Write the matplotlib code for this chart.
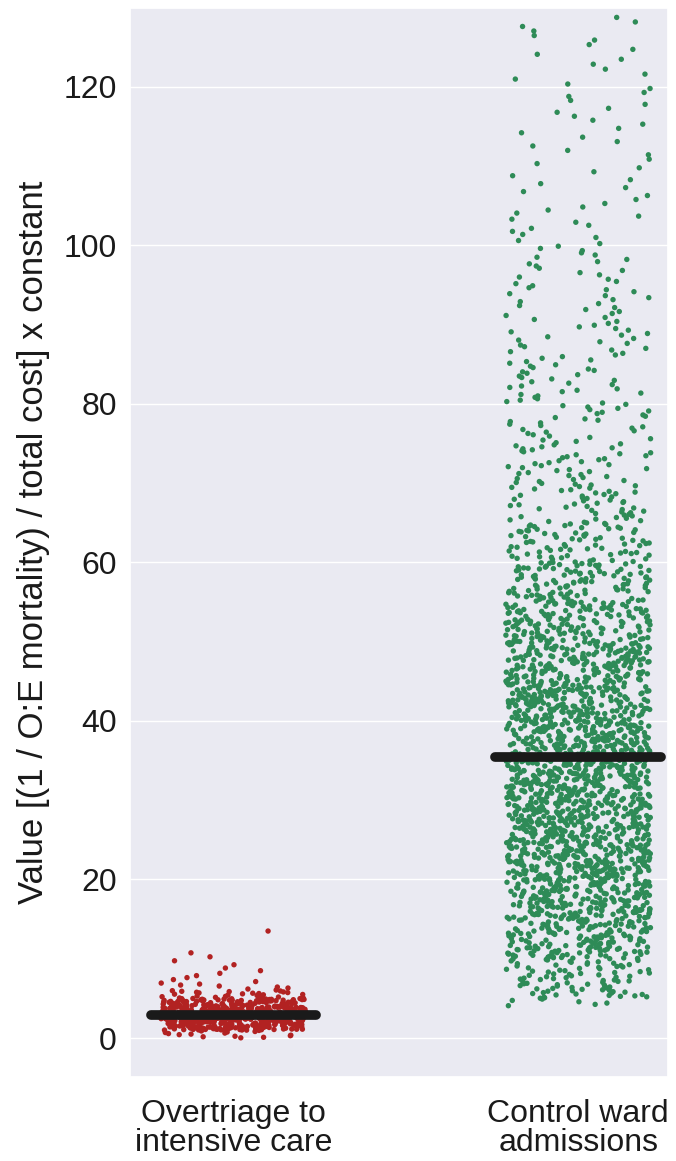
import numpy as np
import pandas as pd
import matplotlib
matplotlib.use("Agg")
import matplotlib.pyplot as plt
import seaborn as sns

# groups shown on the x axis
groups = ["Overtriage to\nintensive care", "Control ward\nadmissions"]
colors = ["#b22222", "#2e8b57"]

# point counts, per value band
red_edges = [0, 1, 2, 3, 4, 5, 6, 7, 8, 9, 10, 11, 12, 13, 14]
red_counts = [15, 125, 175, 150, 85, 25, 8, 4, 3, 2, 2, 0, 0, 1]

green_edges = [4, 5, 10, 15, 20, 25, 30, 35, 40, 45, 50, 55, 60, 65, 70,
               75, 80, 85, 90, 95, 100, 105, 110, 115, 120, 125, 129]
green_counts = [6, 85, 165, 210, 240, 240, 240, 230, 210, 185, 145, 110, 75,
                50, 40, 30, 28, 24, 20, 18, 13, 10, 9, 10, 8, 7]


def spread(edges, counts):
    # place each band's points evenly inside the band
    vals = []
    for lo, hi, n in zip(edges[:-1], edges[1:], counts):
        for i in range(n):
            vals.append(lo + (i + 0.5) * (hi - lo) / n)
    return vals


red_vals = spread(red_edges, red_counts)
green_vals = spread(green_edges, green_counts)

df = pd.DataFrame({
    "group": [groups[0]] * len(red_vals) + [groups[1]] * len(green_vals),
    "value": red_vals + green_vals,
})

sns.set_theme(style="darkgrid")
plt.rcParams["font.family"] = ["Liberation Sans", "DejaVu Sans"]

np.random.seed(3)
fig = plt.figure(figsize=(6.76, 11.61), dpi=100)
ax = fig.add_axes([0.1923, 0.0724, 0.7957, 0.9207])

sns.stripplot(data=df, x="group", y="value", hue="group", order=groups,
              palette=colors, jitter=0.21, size=3.9, linewidth=0,
              legend=False, ax=ax)

for i, vals in enumerate([red_vals, green_vals]):
    med = np.median(vals)
    ax.plot([i - 0.24, i + 0.24], [med, med], color="#1a1a1a", lw=7,
            solid_capstyle="round", zorder=5)

ax.set_xlim(-0.3, 1.26)
ax.set_ylim(-4.9, 129.9)
ax.set_yticks([0, 20, 40, 60, 80, 100, 120])
ax.set_xlabel("")
ax.set_ylabel("Value [(1 / O:E mortality) / total cost] x constant",
              fontsize=25, color="#1a1a1a", labelpad=10)
ax.tick_params(axis="y", labelsize=23, labelcolor="#1a1a1a")
ax.tick_params(axis="x", labelsize=23, labelcolor="#1a1a1a", pad=10)
for lab in ax.get_xticklabels():
    lab.set_linespacing(0.95)

fig.savefig("out.png", dpi=100)
